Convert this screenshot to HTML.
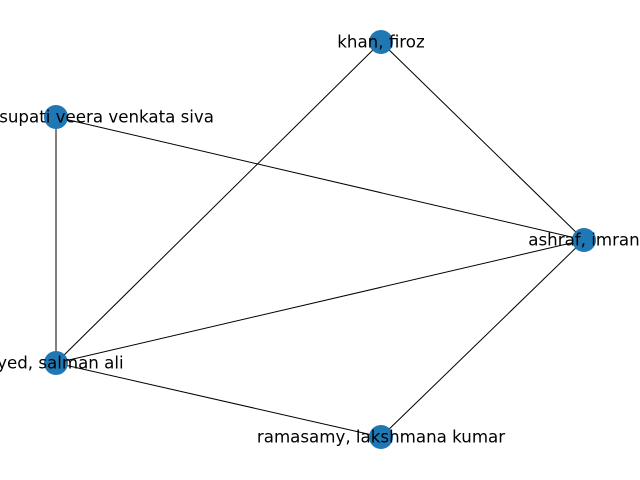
<!DOCTYPE html>
<html><head><style>html,body{margin:0;padding:0;background:#fff}svg{display:block}</style></head>
<body>
<svg width="640" height="480" xmlns="http://www.w3.org/2000/svg">
<g stroke="#000" stroke-width="1">
<line x1="381" y1="42" x2="584" y2="240"/>
<line x1="381" y1="42" x2="56" y2="363"/>
<line x1="56" y1="117" x2="584" y2="240"/>
<line x1="56" y1="117" x2="56" y2="363"/>
<line x1="56" y1="363" x2="584" y2="240"/>
<line x1="56" y1="363" x2="381" y2="437"/>
<line x1="381" y1="437" x2="584" y2="240"/>
</g>
<g fill="#1f77b4">
<circle cx="381" cy="42" r="12"/>
<circle cx="56" cy="117" r="12"/>
<circle cx="584" cy="240" r="12"/>
<circle cx="56" cy="363" r="12"/>
<circle cx="381" cy="437" r="12"/>
</g>
<g font-family="DejaVu Sans, sans-serif" font-size="16.67" text-anchor="middle" fill="#000" dominant-baseline="central">
<text x="381" y="42">khan, firoz</text>
<text x="214" y="117" text-anchor="end">pasupati veera venkata siva</text>
<text x="584" y="240">ashraf, imran</text>
<text x="56" y="363">syed, salman ali</text>
<text x="381" y="437">ramasamy, lakshmana kumar</text>
</g>
</svg>
</body></html>
